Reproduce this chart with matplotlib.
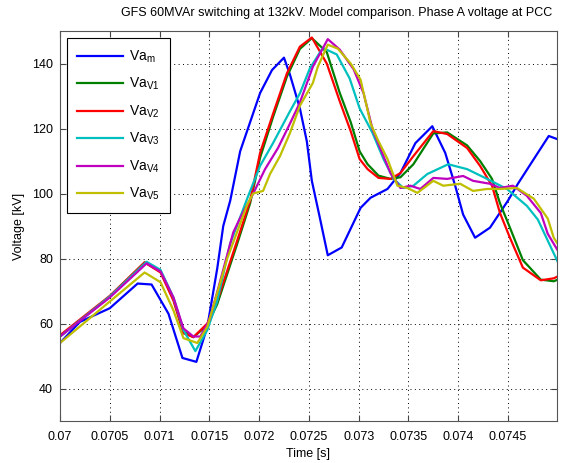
import numpy as np
import matplotlib.pyplot as plt

plt.rcParams['font.family'] = ['Liberation Sans', 'DejaVu Sans']
plt.rcParams['mathtext.default'] = 'regular'

# measured voltage
t_m = [0.07000, 0.07020, 0.07050, 0.07078, 0.07092, 0.07109, 0.07123, 0.07137,
       0.07148, 0.07158, 0.07164, 0.07171, 0.07181, 0.07201, 0.07213, 0.07225,
       0.07231, 0.07241, 0.07248, 0.07253, 0.07261, 0.07269, 0.07283, 0.07302,
       0.07312, 0.07329, 0.07342, 0.07357, 0.07374, 0.07387, 0.07397, 0.07405,
       0.07417, 0.07432, 0.07450, 0.07460, 0.07476, 0.07491, 0.07499]
v_m = [54.0, 60.5, 64.7, 72.3, 72.0, 63.0, 49.4, 48.2,
       59.0, 77.0, 90.0, 97.8, 113.0, 130.9, 138.0, 141.8,
       136.6, 126.2, 116.0, 103.9, 92.6, 81.0, 83.4, 95.6,
       98.7, 101.4, 106.3, 115.5, 120.7, 112.5, 102.4, 93.5,
       86.4, 89.5, 97.8, 103.0, 110.6, 117.7, 116.8]

# model V1 / V2
t_v12 = [0.07000, 0.07050, 0.07085, 0.07101, 0.07114, 0.07124, 0.07134, 0.07148,
         0.07158, 0.07178, 0.07191, 0.07201, 0.07214, 0.07228, 0.07241, 0.07253,
         0.07268, 0.07281, 0.07292, 0.07301, 0.07309, 0.07320, 0.07332, 0.07342,
         0.07355, 0.07375, 0.07389, 0.07409, 0.07422, 0.07434, 0.07442, 0.07452,
         0.07465, 0.07483, 0.07496, 0.07500]
v_v1 = [56.0, 68.3, 78.8, 76.0, 67.5, 57.5, 55.8, 59.5,
        66.0, 84.5, 97.0, 111.0, 123.5, 136.0, 144.5, 147.8,
        143.5, 131.0, 122.0, 113.0, 109.0, 105.5, 104.5, 105.0,
        109.0, 118.5, 118.8, 114.8, 110.0, 104.5, 97.0, 89.5,
        79.5, 73.5, 73.0, 73.5]
v_v2 = [56.4, 68.5, 78.8, 75.7, 67.0, 57.0, 55.8, 60.0,
        67.0, 85.5, 97.8, 112.5, 124.5, 137.0, 145.2, 148.0,
        140.0, 128.4, 119.2, 110.6, 107.5, 104.8, 104.5, 106.3,
        111.5, 119.2, 118.3, 114.0, 108.5, 102.4, 94.0, 86.4,
        77.2, 73.3, 73.9, 74.5]

# model V3
t_v3 = [0.07000, 0.07050, 0.07087, 0.07101, 0.07114, 0.07124, 0.07136, 0.07148,
        0.07158, 0.07171, 0.07188, 0.07201, 0.07214, 0.07231, 0.07241, 0.07251,
        0.07264, 0.07278, 0.07291, 0.07301, 0.07314, 0.07325, 0.07335, 0.07345,
        0.07355, 0.07369, 0.07390, 0.07409, 0.07429, 0.07449, 0.07469, 0.07480,
        0.07500]
v_v3 = [56.0, 68.3, 79.0, 76.5, 68.0, 58.0, 51.5, 58.0,
        67.0, 84.6, 98.4, 108.5, 115.5, 125.3, 130.8, 138.5,
        144.8, 142.8, 135.4, 126.2, 118.6, 110.6, 104.5, 101.7,
        102.4, 106.0, 109.0, 107.5, 104.5, 101.4, 96.2, 92.0,
        79.0]

# model V4
t_v4 = [0.07000, 0.07050, 0.07087, 0.07101, 0.07114, 0.07124, 0.07134, 0.07141,
        0.07150, 0.07160, 0.07174, 0.07181, 0.07193, 0.07206, 0.07219, 0.07231,
        0.07241, 0.07254, 0.07269, 0.07281, 0.07295, 0.07305, 0.07314, 0.07322,
        0.07332, 0.07342, 0.07352, 0.07362, 0.07375, 0.07389, 0.07405, 0.07415,
        0.07432, 0.07442, 0.07455, 0.07469, 0.07483, 0.07490, 0.07500]
v_v4 = [56.0, 68.0, 78.5, 76.0, 68.0, 58.5, 56.0, 56.0,
        61.0, 72.0, 88.0, 92.5, 99.3, 107.5, 114.0, 121.5,
        128.0, 139.0, 147.5, 144.3, 138.2, 130.8, 119.8, 113.7,
        106.3, 101.7, 102.4, 101.4, 104.8, 104.5, 105.4, 103.9,
        103.0, 101.7, 102.4, 99.3, 94.0, 87.6, 82.5]

# model V5
t_v5 = [0.07000, 0.07085, 0.07101, 0.07114, 0.07124, 0.07138, 0.07148, 0.07168,
        0.07188, 0.07194, 0.07204, 0.07211, 0.07221, 0.07231, 0.07241, 0.07254,
        0.07259, 0.07269, 0.07279, 0.07292, 0.07302, 0.07312, 0.07319, 0.07329,
        0.07339, 0.07349, 0.07359, 0.07375, 0.07385, 0.07402, 0.07415, 0.07429,
        0.07442, 0.07459, 0.07476, 0.07490, 0.07496, 0.07500]
v_v5 = [54.0, 75.7, 72.7, 64.0, 55.5, 54.0, 59.0, 80.0,
        96.5, 100.0, 100.8, 106.0, 111.5, 118.6, 127.0, 134.0,
        139.0, 145.8, 144.6, 140.0, 135.0, 121.6, 116.7, 110.6,
        102.4, 101.7, 100.2, 103.9, 102.4, 103.0, 100.8, 101.4,
        101.4, 101.7, 98.4, 92.3, 86.4, 84.5]

fig = plt.figure(figsize=(5.66, 4.63), dpi=100)
ax = fig.add_axes([0.106, 0.0907, 0.8776, 0.8423])

lw = 1.6
ax.plot(t_m, v_m, color=(0, 0, 1), lw=lw, label='Va$_m$')
ax.plot(t_v12, v_v1, color=(0, 0.5, 0), lw=lw, label='Va$_{V1}$')
ax.plot(t_v12, v_v2, color=(1, 0, 0), lw=lw, label='Va$_{V2}$')
ax.plot(t_v3, v_v3, color=(0, 0.75, 0.75), lw=lw, label='Va$_{V3}$')
ax.plot(t_v4, v_v4, color=(0.75, 0, 0.75), lw=lw, label='Va$_{V4}$')
ax.plot(t_v5, v_v5, color=(0.75, 0.75, 0), lw=lw, label='Va$_{V5}$')

ax.set_xlim(0.07, 0.07499)
ax.set_ylim(30, 150)
ax.set_xticks(np.arange(0.07, 0.0749, 0.0005))
ax.set_xticklabels(['0.07', '0.0705', '0.071', '0.0715', '0.072', '0.0725',
                    '0.073', '0.0735', '0.074', '0.0745'])
ax.set_yticks([40, 60, 80, 100, 120, 140])

ax.grid(True, color='black', linestyle=(0, (1, 3.5)), linewidth=0.7)
ax.tick_params(direction='in', top=True, right=True, length=4, labelsize=9,
               color='#444444')
ax.tick_params(axis='x', pad=7)
ax.tick_params(axis='y', pad=5)
for s in ax.spines.values():
    s.set_color('#555555')

ax.set_xlabel('Time [s]', fontsize=9, labelpad=4)
ax.set_ylabel('Voltage [kV]', fontsize=9, labelpad=5)
fig.text(0.594, 1 - 13 / 463, 'GFS 60MVAr switching at 132kV. Model comparison. Phase A voltage at PCC',
         fontsize=9, ha='center', va='center')

leg = ax.legend(loc='upper left', bbox_to_anchor=(0.014, 0.982), borderaxespad=0,
                fontsize=10, fancybox=False, framealpha=1, edgecolor='black',
                handlelength=3.3, handletextpad=0.4, borderpad=0.75,
                labelspacing=0.8)
leg.get_frame().set_linewidth(0.8)

fig.savefig('out.png', dpi=100)
